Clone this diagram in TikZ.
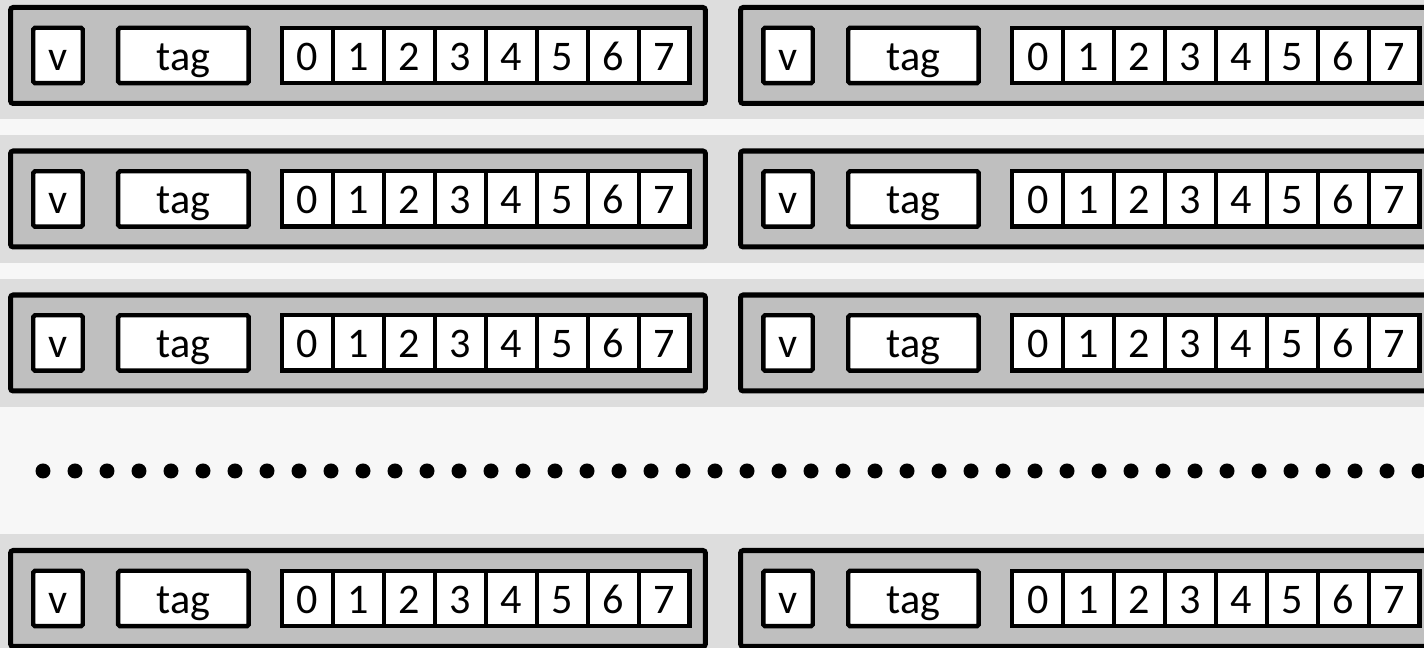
\documentclass[tikz,border=0pt]{standalone}
\usepackage{fontspec}
\setmainfont{Carlito}
\usepackage{tikz}
\usetikzlibrary{positioning}
\definecolor{bandgray}{HTML}{DDDDDD}
\definecolor{pagegray}{HTML}{F7F7F7}
\definecolor{linegray}{HTML}{BFBFBF}

\begin{document}
\begin{tikzpicture}[
  x=0.02cm, y=0.02cm,
  node distance=0pt,
  cacheline/.style={
    rectangle, draw=black, line width=2.85pt, rounded corners=1.5pt,
    fill=linegray, minimum width=13.9cm, minimum height=1.92cm,
    inner sep=0pt, outer sep=0pt
  },
  field/.style={
    rectangle, draw=black, line width=2.55pt, rounded corners=1pt,
    fill=white, minimum height=1.11cm, inner sep=0pt, outer sep=0pt,
    text height=0.6cm, text depth=0cm, font=\fontsize{24}{28}\selectfont
  },
  vbit/.style={field, minimum width=0.99cm},
  tagfield/.style={field, minimum width=2.61cm},
  byte/.style={field, minimum width=1.019cm, rounded corners=0pt},
  gapdot/.style={circle, fill=black, minimum size=0.3cm, inner sep=0pt}
]

\useasboundingbox (0,0) rectangle (1424,648);
\clip (0,0) rectangle (1424,648);
\fill[pagegray] (0,0) rectangle (1424,648);

% cache sets, two ways each
\foreach \r/\yy in {1/592.5, 2/449, 3/305, 5/49.5} {
  \fill[bandgray] (0,\yy-64) rectangle (1424,\yy+64);
  \foreach \c/\xx in {0/0, 1/730} {
    \node[cacheline] (line-\r-\c) at (358+\xx,\yy) {};
    \node[vbit] (v-\r-\c) at (58+\xx,\yy) {v};
    \node[tagfield, right=0.71cm of v-\r-\c] (tag-\r-\c) {tag};
    \node[byte, right=0.67cm of tag-\r-\c] (b-\r-\c-0) {0};
    \foreach \i [count=\j from 0] in {1,...,7}
      \node[byte, right=of b-\r-\c-\j] (b-\r-\c-\i) {\i};
  }
}

% skipped sets
\foreach \k in {0,...,43}
  \node[gapdot] (dot-\k) at (43+32*\k,177) {};

\end{tikzpicture}
\end{document}
